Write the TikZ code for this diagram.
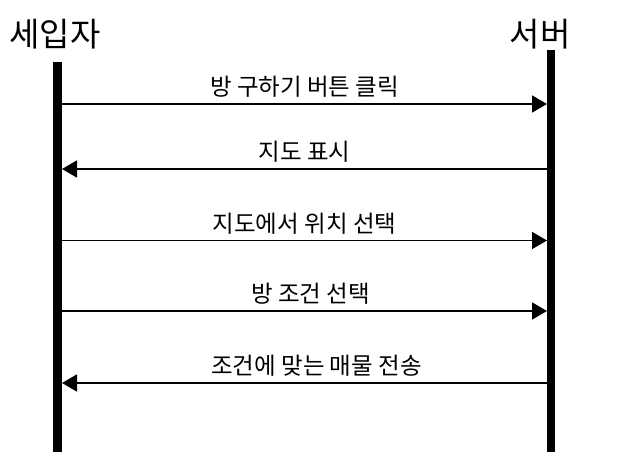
\documentclass[tikz,border=0pt]{standalone}
\usepackage{fontspec}
\setmainfont{Noto Sans CJK KR}
\usetikzlibrary{arrows.meta}

\begin{document}
\begin{tikzpicture}[x=1pt, y=-1pt,
  actor/.style = {font=\fontsize{33}{33}\selectfont, inner sep=0pt},
  life/.style = {line width=8.5pt},
  msg/.style = {line width=1.7pt, -{Triangle[length=15pt,width=17pt]}},
  lbl/.style = {font=\fontsize{23.5}{23.5}\selectfont, inner sep=0pt, yshift=17pt}]
\useasboundingbox (0,0) rectangle (619,465);
\node[actor] (renter) at (55,34) {세입자};
\node[actor] (server) at (540,34) {서버};
\coordinate (rtop) at (57.5,62);
\coordinate (rbot) at (57.5,452);
\coordinate (stop) at (551,50);
\coordinate (sbot) at (551,452);
\draw[life] (rtop) -- (rbot);
\draw[life] (stop) -- (sbot);
% message ends on both lifelines
\coordinate (r1) at (62,104);   \coordinate (s1) at (547,104);
\coordinate (r2) at (62,169);   \coordinate (s2) at (547,169);
\coordinate (r3) at (62,240.5); \coordinate (s3) at (547,240.5);
\coordinate (r4) at (62,311);   \coordinate (s4) at (547,311);
\coordinate (r5) at (62,383);   \coordinate (s5) at (547,383);
\draw[msg] (r1) -- node[lbl] {방 구하기 버튼 클릭} (s1);
\draw[msg] (s2) -- node[lbl] {지도 표시} (r2);
\draw[msg] (r3) -- node[lbl] {지도에서 위치 선택} (s3);
\draw[msg] (r4) -- node[lbl, xshift=6pt] {방 조건 선택} (s4);
\draw[msg] (s5) -- node[lbl, xshift=12pt] {조건에 맞는 매물 전송} (r5);
\end{tikzpicture}
\end{document}
